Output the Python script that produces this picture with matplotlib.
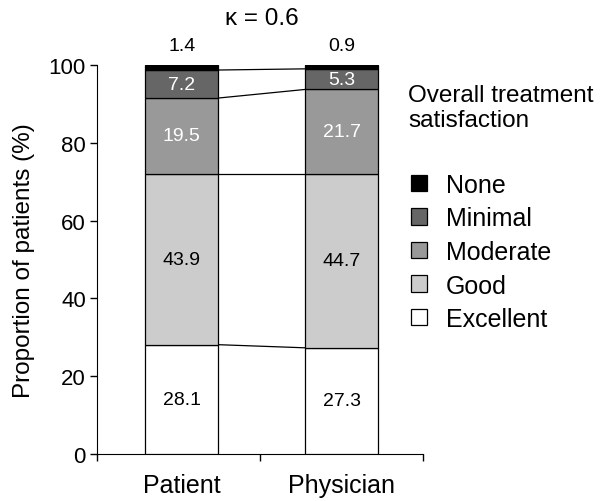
import matplotlib
matplotlib.use("Agg")
import matplotlib.pyplot as plt
import numpy as np

plt.rcParams['font.family'] = ['Liberation Sans', 'DejaVu Sans']

groups = ["Patient", "Physician"]
levels = ["Excellent", "Good", "Moderate", "Minimal", "None"]
patient = [28.1, 43.9, 19.5, 7.2, 1.4]
physician = [27.3, 44.7, 21.7, 5.3, 0.9]
colors = ["#ffffff", "#cccccc", "#999999", "#666666", "#000000"]
text_colors = ["black", "black", "white", "white", "black"]
kappa_text = "κ = 0.6"
legend_title = "Overall treatment\nsatisfaction"

fig = plt.figure(figsize=(6.0, 5.02), dpi=100)
ax = fig.add_axes([0.1617, 0.0936, 0.5433, 0.775])

data = np.array([patient, physician])
xs = np.array([0.52, 1.5])
width = 0.45
bottoms = np.zeros(2)
handles = []
for i, lev in enumerate(levels):
    vals = data[:, i]
    b = ax.bar(xs, vals, width, bottom=bottoms, color=colors[i],
               edgecolor="black", linewidth=0.9, label=lev, zorder=3)
    handles.append(b)
    for j in range(2):
        if lev == "None":
            ax.text(xs[j], 105.0, f"{vals[j]:.1f}", ha="center", va="center",
                    fontsize=14, color="black", clip_on=False)
        else:
            ax.text(xs[j], bottoms[j] + vals[j] / 2, f"{vals[j]:.1f}",
                    ha="center", va="center", fontsize=14, color=text_colors[i], zorder=4)
    bottoms = bottoms + vals

# connecting lines
cum = np.cumsum(data, axis=1)
for i in range(len(levels) - 1):
    ax.plot([xs[0] + width / 2, xs[1] - width / 2], [cum[0, i], cum[1, i]],
            color="black", linewidth=0.9, zorder=2)

ax.set_xlim(0, 2)
ax.set_ylim(0, 100)
ax.set_yticks([0, 20, 40, 60, 80, 100])
ax.tick_params(axis="y", labelsize=16, direction="out", length=5, width=1, pad=3)
ax.set_xticks([0, 1, 2])
ax.set_xticklabels([])
ax.tick_params(axis="x", direction="out", length=5, width=1)
for j, g in enumerate(groups):
    ax.text(xs[j], -4.8, g, ha="center", va="top", fontsize=18)
ax.spines["top"].set_visible(False)
ax.spines["right"].set_visible(False)
ax.set_ylabel("Proportion of patients (%)", fontsize=17.5, labelpad=10)

fig.text(0.437, 0.963, kappa_text, ha="center", va="center", fontsize=17.5)

fig.text(408 / 600, 1 - 108.5 / 502, legend_title, ha="left", va="center",
         fontsize=17.5, linespacing=1.2)

leg = fig.legend(handles[::-1], levels[::-1], loc="upper left",
                 bbox_to_anchor=(411 / 600, 1 - 174 / 502), frameon=False, fontsize=18,
                 handlelength=0.64, handleheight=0.64, handletextpad=0.75,
                 labelspacing=0.38, borderpad=0, borderaxespad=0)
for p in leg.get_patches():
    p.set_linewidth(0.9)

fig.savefig("out.png", dpi=100)
